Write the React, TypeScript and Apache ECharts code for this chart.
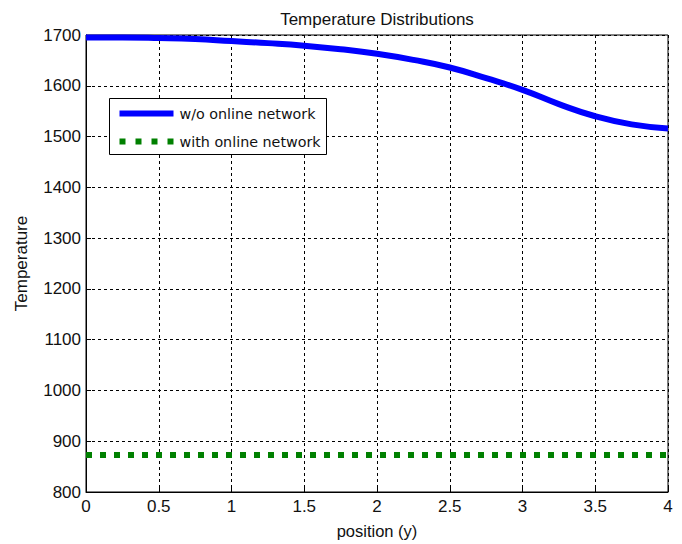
import React, { useEffect, useRef } from "react";
import * as echarts from "echarts";

const positions = [0, 0.25, 0.5, 0.75, 1.0, 1.25, 1.5, 1.75, 2.0, 2.25, 2.5, 2.75, 3.0, 3.25, 3.5, 3.75, 4.0];
const withoutNetwork = [1695, 1695, 1694, 1692, 1688, 1684, 1679, 1672, 1663, 1651, 1636, 1615, 1592, 1564, 1540, 1524, 1516];
const withNetwork = [873, 873, 873, 873, 873, 873, 873, 873, 873, 873, 873, 873, 873, 873, 873, 873, 873];
const seriesNames = ["w/o online network", "with online network"];
const titleText = "Temperature Distributions";
const xName = "position (y)";
const yName = "Temperature";

const FONT = "'Liberation Sans', Arial, Helvetica, sans-serif";
const LEGEND_FONT = "'DejaVu Sans', Verdana, sans-serif";
const BLUE = "#0000ff";
const GREEN = "#008000";
const GREEN_DASH = [6, 8];

export default function App() {
  const ref = useRef<HTMLDivElement>(null);
  useEffect(() => {
    if (!ref.current) return;
    const chart = echarts.init(ref.current, undefined, { renderer: "svg" });
    const pair = (ys: number[]) => positions.map((x, i) => [x, ys[i]]);
    chart.setOption({
      animation: false,
      backgroundColor: "#ffffff",
      textStyle: { fontFamily: FONT },
      title: {
        text: titleText,
        left: 372,
        top: 6,
        textAlign: "center",
        textStyle: { fontSize: 17, fontWeight: "normal", color: "#111", fontFamily: FONT },
      },
      grid: { left: 86, right: 14, top: 35, bottom: 50, show: true, borderColor: "#000", borderWidth: 1 },
      graphic: [
        {
          type: "group",
          left: 109,
          top: 98,
          z: 100,
          children: [
            {
              type: "rect",
              shape: { x: 0, y: 0, width: 217, height: 56 },
              style: { fill: "#fff", stroke: "#000", lineWidth: 1 },
              z: 100,
            },
            {
              type: "line",
              shape: { x1: 10, y1: 15, x2: 64, y2: 15 },
              style: { stroke: BLUE, lineWidth: 6 },
              z: 101,
            },
            {
              type: "line",
              shape: { x1: 10, y1: 43, x2: 64, y2: 43 },
              style: { stroke: GREEN, lineWidth: 6, lineDash: [6, 10] },
              z: 101,
            },
            {
              type: "text",
              x: 70,
              y: 15,
              style: { text: seriesNames[0], fontSize: 14.3, fontFamily: LEGEND_FONT, fill: "#111", verticalAlign: "middle" },
              z: 101,
            },
            {
              type: "text",
              x: 70,
              y: 43,
              style: { text: seriesNames[1], fontSize: 14.3, fontFamily: LEGEND_FONT, fill: "#111", verticalAlign: "middle" },
              z: 101,
            },
          ],
        },
      ],
      xAxis: {
        type: "value",
        min: 0,
        max: 4,
        interval: 0.5,
        name: xName,
        nameLocation: "middle",
        nameGap: 30,
        nameTextStyle: { fontSize: 16.5, color: "#111", fontFamily: FONT },
        axisLine: { show: true, lineStyle: { color: "#000", width: 1 } },
        axisTick: { show: true, inside: true, length: 5, lineStyle: { color: "#000" } },
        axisLabel: { fontSize: 17, color: "#111", margin: 6, fontFamily: FONT },
        splitLine: { show: true, lineStyle: { color: "#000", type: [3, 3], width: 1 } },
      },
      yAxis: {
        type: "value",
        min: 800,
        max: 1700,
        interval: 100,
        name: yName,
        nameLocation: "middle",
        nameGap: 56,
        nameTextStyle: { fontSize: 17, color: "#111", fontFamily: FONT },
        axisLine: { show: true, lineStyle: { color: "#000", width: 1 } },
        axisTick: { show: true, inside: true, length: 5, lineStyle: { color: "#000" } },
        axisLabel: { fontSize: 17, color: "#111", margin: 5, fontFamily: FONT, formatter: (v: number) => String(v) },
        splitLine: { show: true, lineStyle: { color: "#000", type: [3, 3], width: 1 } },
      },
      series: [
        {
          name: seriesNames[0],
          type: "line",
          data: pair(withoutNetwork),
          smooth: true,
          symbol: "none",
          lineStyle: { color: BLUE, width: 6 },
          itemStyle: { color: BLUE },
          z: 3,
        },
        {
          name: seriesNames[1],
          type: "line",
          data: pair(withNetwork),
          symbol: "none",
          lineStyle: { color: GREEN, width: 6, type: GREEN_DASH },
          itemStyle: { color: GREEN },
          z: 3,
        },
      ],
    });
    return () => chart.dispose();
  }, []);
  return <div ref={ref} style={{ width: 682, height: 544, position: "absolute", left: 0, top: 0 }} />;
}
